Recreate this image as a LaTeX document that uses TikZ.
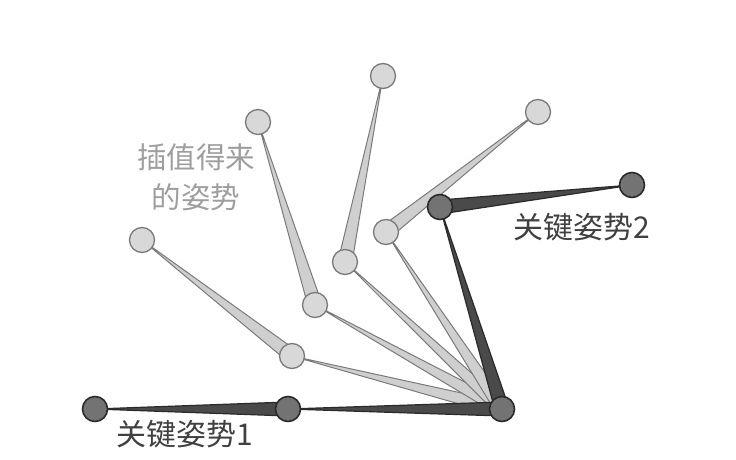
\documentclass[tikz,border=0pt]{standalone}
\usepackage{fontspec}
\newfontfamily\cjk{Noto Sans CJK SC}
\usetikzlibrary{calc}
\definecolor{keyfill}{HTML}{737373}
\definecolor{keybone}{HTML}{4A4A4A}
\definecolor{keyline}{HTML}{2A2A2A}
\definecolor{ipfill}{HTML}{D8D8D8}
\definecolor{ipbone}{HTML}{CFCFCF}
\definecolor{ipline}{HTML}{7A7A7A}
\tikzset{
  keyj/.style={circle,draw=keyline,fill=keyfill,line width=1.6pt,minimum size=25pt,inner sep=0pt},
  ipj/.style={circle,draw=ipline,fill=ipfill,line width=1.3pt,minimum size=25pt,inner sep=0pt},
  keyb/.style={draw=keyline,fill=keybone,line width=1.2pt,line join=round},
  ipb/.style={draw=ipline,fill=ipbone,line width=1pt,line join=round},
  keylabel/.style={font=\cjk\fontsize{30}{36}\selectfont,text=black!75},
  iplabel/.style={font=\cjk\fontsize{29.5}{40}\selectfont,text=black!38,align=center}
}
\newcommand{\bone}[3]{\path[#1] ($(#2.center)!7pt!90:(#3.center)$) -- ($(#2.center)!7pt!-90:(#3.center)$) -- (#3.center) -- cycle;}
\begin{document}
\begin{tikzpicture}[x=1pt,y=-1pt]
\useasboundingbox (0,0) rectangle (736,460);
% joints
\coordinate (root) at (502,409);
\coordinate (k1e) at (288,409);
\coordinate (k1h) at (95,409);
\coordinate (k2e) at (440,207);
\coordinate (k2h) at (632,185);
\coordinate (i1e) at (292,356);
\coordinate (i1h) at (142,240);
\coordinate (i2e) at (315,305);
\coordinate (i2h) at (258,122);
\coordinate (i3e) at (345,262);
\coordinate (i3h) at (383,76);
\coordinate (i4e) at (386,232);
\coordinate (i4h) at (538,112);
% interpolated bones
\bone{ipb}{root}{i1e}
\bone{ipb}{root}{i2e}
\bone{ipb}{root}{i3e}
\bone{ipb}{root}{i4e}
\bone{ipb}{i1e}{i1h}
\bone{ipb}{i2e}{i2h}
\bone{ipb}{i3e}{i3h}
\bone{ipb}{i4e}{i4h}
\foreach \j in {i1e,i1h,i2e,i2h,i3e,i3h,i4e,i4h} \node[ipj] (n\j) at (\j) {};
% key bones
\bone{keyb}{root}{k1e}
\bone{keyb}{root}{k2e}
\bone{keyb}{k1e}{k1h}
\bone{keyb}{k2e}{k2h}
\foreach \j in {k1e,k1h,k2e,k2h,root} \node[keyj] (n\j) at (\j) {};
% labels
\node[keylabel] (l1) at (185,434) {关键姿势1};
\node[keylabel] (l2) at (582,227) {关键姿势2};
\node[iplabel] (l3) at (196,177) {插值得来\\的姿势};
\end{tikzpicture}
\end{document}
